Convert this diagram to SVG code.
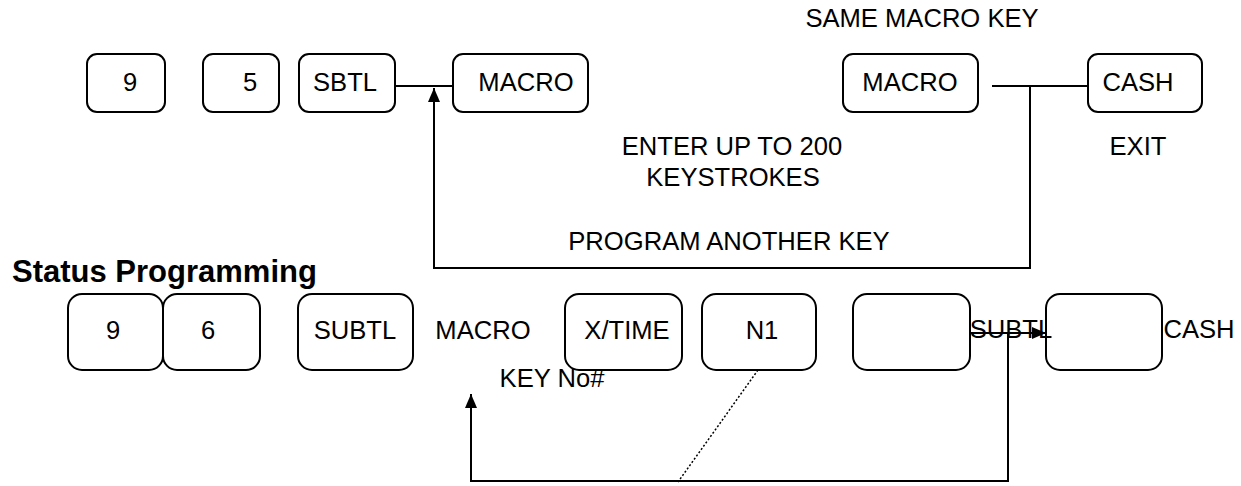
<svg xmlns="http://www.w3.org/2000/svg" width="1241" height="486" viewBox="0 0 1241 486">
<style>
  .key { fill: #fff; stroke: #000; stroke-width: 2; }
  .t { font-family: "Liberation Sans", Arial, sans-serif; font-size: 25.6px; fill: #000; text-anchor: middle; }
  .h { font-family: "Liberation Sans", Arial, sans-serif; font-size: 31px; font-weight: bold; fill: #000; }
  .c { fill: none; stroke: #000; stroke-width: 2; }
  .dot { fill: none; stroke: #000; stroke-width: 1.5; stroke-dasharray: 2 2; }
</style>
<defs>
  <marker id="arr" markerUnits="userSpaceOnUse" markerWidth="14" markerHeight="12" refX="14" refY="6" orient="auto">
    <path d="M0,0 L14,6 L0,12 Z" fill="#000"/>
  </marker>
</defs>
<rect width="1241" height="486" fill="#fff"/>

<g id="connectors">
  <line class="c" x1="395" y1="86" x2="453" y2="86"/>
  <path class="c" d="M1030,86 V268 H434 V88" marker-end="url(#arr)"/>
  <line class="c" x1="992" y1="86" x2="1088" y2="86"/>
  <line class="c" x1="970" y1="333" x2="1046" y2="333" marker-end="url(#arr)"/>
  <path class="c" d="M1008,333 V481 H471 V394" marker-end="url(#arr)"/>
  <line class="dot" x1="758" y1="370" x2="678" y2="482"/>
</g>

<g id="top-9"><rect class="key" x="87" y="54" width="78" height="58" rx="10"/><text class="t" x="130" y="91">9</text></g>
<g id="top-5"><rect class="key" x="203" y="54" width="76" height="58" rx="10"/><text class="t" x="250" y="91">5</text></g>
<g id="top-sbtl"><rect class="key" x="299" y="54" width="96" height="58" rx="10"/><text class="t" x="345" y="91">SBTL</text></g>
<g id="top-macro1"><rect class="key" x="453" y="54" width="135" height="58" rx="10"/><text class="t" x="526" y="91">MACRO</text></g>
<g id="top-macro2"><rect class="key" x="843" y="54" width="135" height="58" rx="10"/><text class="t" x="910" y="91">MACRO</text></g>
<g id="top-cash"><rect class="key" x="1088" y="54" width="114" height="58" rx="10"/><text class="t" x="1138" y="91">CASH</text></g>

<g id="labels-top">
  <text class="t" x="922" y="27">SAME MACRO KEY</text>
  <text class="t" x="732" y="155">ENTER UP TO 200</text>
  <text class="t" x="733" y="186">KEYSTROKES</text>
  <text class="t" x="1138" y="155">EXIT</text>
  <text class="t" x="729" y="250">PROGRAM ANOTHER KEY</text>
</g>

<text class="h" x="12" y="282">Status Programming</text>

<g id="bot-9"><rect class="key" x="68" y="294" width="95" height="76" rx="14"/><text class="t" x="113" y="339">9</text></g>
<g id="bot-6"><rect class="key" x="163" y="294" width="97" height="76" rx="14"/><text class="t" x="208" y="339">6</text></g>
<g id="bot-subtl"><rect class="key" x="298" y="294" width="115" height="76" rx="14"/><text class="t" x="355" y="339">SUBTL</text></g>
<g id="bot-xtime"><rect class="key" x="565" y="294" width="117" height="76" rx="14"/><text class="t" x="627" y="339">X/TIME</text></g>
<g id="bot-n1"><rect class="key" x="702" y="294" width="114" height="76" rx="14"/><text class="t" x="762" y="339">N1</text></g>
<g id="bot-blank1"><rect class="key" x="853" y="294" width="117" height="76" rx="14"/></g>
<g id="bot-blank2"><rect class="key" x="1046" y="294" width="116" height="76" rx="14"/></g>

<g id="labels-bottom">
  <text class="t" x="483" y="339">MACRO</text>
  <text class="t" x="552" y="387">KEY No#</text>
  <text class="t" x="1011" y="338">SUBTL</text>
  <text class="t" x="1199" y="338">CASH</text>
</g>
</svg>
